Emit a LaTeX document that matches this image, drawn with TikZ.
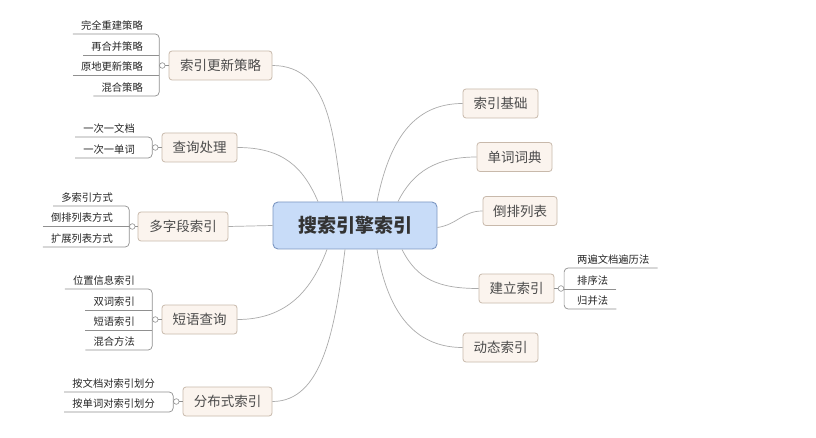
\documentclass[tikz,border=0pt]{standalone}
\usepackage{fontspec}
\setmainfont{Noto Sans CJK SC}
\definecolor{mainfill}{HTML}{FBF4EE}
\definecolor{mainline}{HTML}{C8B9AB}
\definecolor{cenfill}{HTML}{C8DCF8}
\definecolor{cenline}{HTML}{7C97C2}
\definecolor{conn}{HTML}{ABABAB}
\definecolor{leafline}{HTML}{909090}
\definecolor{txt}{HTML}{4B4B4B}
\begin{document}
\begin{tikzpicture}[x=1pt,y=-1pt,
 topic/.style={draw=mainline, fill=mainfill, rounded corners=3pt, minimum height=29pt, inner sep=0pt, text=txt, font=\fontsize{13.5}{14}\selectfont, line width=0.8pt},
 central/.style={draw=cenline, fill=cenfill, rounded corners=5pt, minimum width=164pt, minimum height=47pt, line width=0.9pt, font=\fontsize{19}{20}\selectfont\bfseries, text=black!80},
 leaf/.style={inner xsep=8pt, inner ysep=3pt, text height=0.88em, text depth=0.12em, font=\fontsize{10.3}{11}\selectfont, text=black!85},
 link/.style={draw=conn, line width=0.7pt},
 lline/.style={draw=leafline, line width=0.7pt},
 dot/.style={circle, draw=leafline, fill=white, inner sep=0pt, minimum size=5.6pt, line width=0.6pt},
]
\useasboundingbox (0,0) rectangle (816,438);
\fill[white] (0,0) rectangle (816,438);

% central
\node[central] (c) at (355,225.5) {搜索引擎索引};

% left topics
\node[topic, minimum width=103pt] (n1) at (220.5,65.5) {索引更新策略};
\node[topic, minimum width=75pt] (n2) at (199.5,147.5) {查询处理};
\node[topic, minimum width=90pt] (n3) at (183,226.5) {多字段索引};
\node[topic, minimum width=75pt] (n4) at (199.5,319.5) {短语查询};
\node[topic, minimum width=89pt] (n5) at (227.5,401.5) {分布式索引};
% right topics
\node[topic, minimum width=75pt] (r1) at (500.5,103.5) {索引基础};
\node[topic, minimum width=75pt] (r2) at (514.5,157) {单词词典};
\node[topic, minimum width=74pt] (r3) at (520,211) {倒排列表};
\node[topic, minimum width=75pt] (r4) at (516.5,288.5) {建立索引};
\node[topic, minimum width=75pt] (r5) at (500.5,347.5) {动态索引};

% connectors
\draw[link] ([xshift=-12pt]c.north) .. controls +(-10,-60) and +(60,0) .. (n1.east);
\draw[link] ([xshift=-37pt]c.north) .. controls +(-15,-35) and +(45,0) .. (n2.east);
\draw[link] (c.west) -- (n3.east);
\draw[link] ([xshift=-28pt]c.south) .. controls +(-15,40) and +(50,0) .. (n4.east);
\draw[link] ([xshift=-10pt]c.south) .. controls +(-10,80) and +(50,0) .. (n5.east);
\draw[link] ([xshift=22pt]c.north) .. controls +(12,-60) and +(-50,0) .. (r1.west);
\draw[link] ([xshift=43pt]c.north) .. controls +(15,-30) and +(-40,0) .. (r2.west);
\draw[link] ([yshift=-2pt]c.east) .. controls +(20,-3) and +(-20,0) .. (r3.west);
\draw[link] ([xshift=47pt]c.south) .. controls +(15,30) and +(-40,0) .. (r4.west);
\draw[link] ([xshift=22pt]c.south) .. controls +(10,60) and +(-50,0) .. (r5.west);

% group 1
\node[dot] (d1) at (162.3,65.5) {};
\node[leaf, anchor=south east] (a1) at (151,34) {完全重建策略};
\node[leaf, anchor=south east] (a2) at (151,55) {再合并策略};
\node[leaf, anchor=south east] (a3) at (151,75) {原地更新策略};
\node[leaf, anchor=south east] (a4) at (151,96) {混合策略};
\draw[lline, rounded corners=4pt] (a1.south west) -| (a4.south west -| d1.west) -- (a4.south west);
\draw[lline] (a2.south west) -- (a2.south west -| d1.west);
\draw[lline] (a3.south west) -- (a3.south west -| d1.west);
\draw[lline] (d1.east) -- (n1.west);

% group 2
\node[dot] (d2) at (155.3,147.5) {};
\node[leaf, anchor=south east] (b1) at (143,137) {一次一文档};
\node[leaf, anchor=south east] (b2) at (143,158) {一次一单词};
\draw[lline, rounded corners=4pt] (b1.south west) -| (b2.south west -| d2.west) -- (b2.south west);
\draw[lline] (d2.east) -- (n2.west);

% group 3
\node[dot] (d3) at (132.3,226.5) {};
\node[leaf, anchor=south east] (e1) at (121,206) {多索引方式};
\node[leaf, anchor=south east] (e2) at (121,226) {倒排列表方式};
\node[leaf, anchor=south east] (e3) at (121,247) {扩展列表方式};
\draw[lline, rounded corners=4pt] (e1.south west) -| (e3.south west -| d3.west) -- (e3.south west);
\draw[lline] (e2.south west) -- (e2.south west -| d3.west);
\draw[lline] (d3.east) -- (n3.west);

% group 4
\node[dot] (d4) at (155.3,319.5) {};
\node[leaf, anchor=south east] (g1) at (143,289) {位置信息索引};
\node[leaf, anchor=south east] (g2) at (143,310) {双词索引};
\node[leaf, anchor=south east] (g3) at (143,330) {短语索引};
\node[leaf, anchor=south east] (g4) at (143,350) {混合方法};
\draw[lline, rounded corners=4pt] (g1.south west) -| (g4.south west -| d4.west) -- (g4.south west);
\draw[lline] (g2.south west) -- (g2.south west -| d4.west);
\draw[lline] (g3.south west) -- (g3.south west -| d4.west);
\draw[lline] (d4.east) -- (n4.west);

% group 5
\node[dot] (d5) at (176.3,401.5) {};
\node[leaf, anchor=south east] (h1) at (163,392) {按文档对索引划分};
\node[leaf, anchor=south east] (h2) at (163,412) {按单词对索引划分};
\draw[lline, rounded corners=4pt] (h1.south west) -| (h2.south west -| d5.west) -- (h2.south west);
\draw[lline] (d5.east) -- (n5.west);

% group 6
\node[dot] (d6) at (561,288.5) {};
\node[leaf, anchor=south west] (f1) at (569,268) {两遍文档遍历法};
\node[leaf, anchor=south west] (f2) at (569,289) {排序法};
\node[leaf, anchor=south west] (f3) at (569,309) {归并法};
\draw[lline, rounded corners=4pt] (f1.south east) -| (f3.south east -| d6.east) -- (f3.south east);
\draw[lline] (f2.south east) -- (f2.south east -| d6.east);
\draw[lline] (d6.west) -- (r4.east);
\end{tikzpicture}
\end{document}
